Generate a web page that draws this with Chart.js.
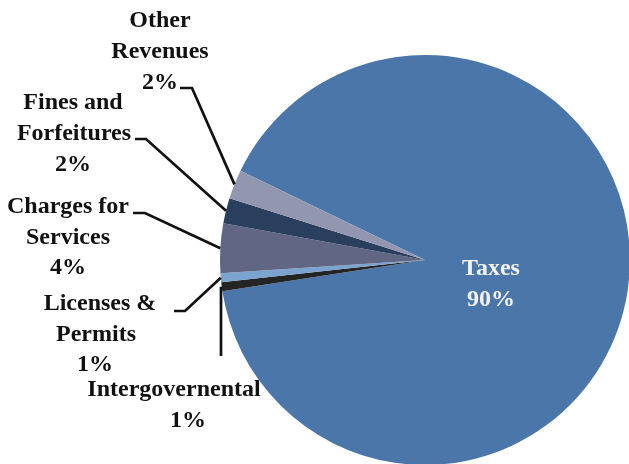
<!DOCTYPE html>
<html>
<head>
<meta charset="utf-8">
<script src="https://cdn.jsdelivr.net/npm/chart.js@4/dist/chart.umd.min.js"></script>
<style>
html,body{margin:0;padding:0;background:#fff;overflow:hidden;width:629px;height:464px;}
canvas{position:absolute;left:0;top:0;}
</style>
</head>
<body>
<canvas id="c" width="640" height="480"></canvas>
<script>
// ---- data ----
const categories = ["Taxes", "Intergovernental", "Licenses & Permits", "Charges for Services", "Fines and Forfeitures", "Other Revenues"];
const shares = [90.4, 0.7, 0.7, 3.9, 2.0, 2.3];
const sliceColors = ["#4A76A9", "#242424", "#7BA3CF", "#626685", "#2A3F5D", "#9296B1"];

// ---- label layout ----
const labelLayout = [
  { lines: [["Taxes", 491, 269], ["%", 491, 300]], color: "#F2F2F2", leader: null },
  { lines: [["Intergovernental", 174, 390], ["%", 188, 421]], color: "#111", leader: { from: [[221, 356]] } },
  { lines: [["Licenses &", 100, 304], ["Permits", 96, 335], ["%", 95, 365]], color: "#111", leader: { from: [[174, 311], [185, 311]] } },
  { lines: [["Charges for", 68, 207], ["Services", 68, 238], ["%", 68, 268]], color: "#111", leader: { from: [[133, 213], [145, 213]] } },
  { lines: [["Fines and", 73, 103], ["Forfeitures", 74, 134], ["%", 73, 165]], color: "#111", leader: { from: [[135, 139], [146, 139]] } },
  { lines: [["Other", 160, 21], ["Revenues", 160, 52], ["%", 160, 83]], color: "#111", leader: { from: [[180, 88], [192, 88]] } }
];

const labelPlugin = {
  id: 'pieLabels',
  afterDatasetsDraw(chart) {
    const ctx = chart.ctx;
    const meta = chart.getDatasetMeta(0);
    const data = chart.data.datasets[0].data;
    const total = data.reduce((a, b) => a + b, 0);
    ctx.save();
    meta.data.forEach((arc, i) => {
      const p = arc.getProps(['x', 'y', 'startAngle', 'endAngle', 'outerRadius'], true);
      const mid = (p.startAngle + p.endAngle) / 2;
      const ex = p.x + Math.cos(mid) * p.outerRadius;
      const ey = p.y + Math.sin(mid) * p.outerRadius;
      const lay = labelLayout[i];
      if (lay.leader) {
        ctx.beginPath();
        ctx.strokeStyle = "#111";
        ctx.lineWidth = 2.7;
        ctx.lineJoin = "miter";
        const pts = lay.leader.from;
        ctx.moveTo(pts[0][0], pts[0][1]);
        for (let k = 1; k < pts.length; k++) ctx.lineTo(pts[k][0], pts[k][1]);
        if (pts.length === 1) ctx.lineTo(pts[0][0], ey); else ctx.lineTo(ex, ey);
        ctx.stroke();
      }
      ctx.font = 'bold 24px "Liberation Serif", "Times New Roman", serif';
      ctx.textAlign = "center";
      ctx.textBaseline = "middle";
      ctx.fillStyle = lay.color;
      lay.lines.forEach(l => {
        const txt = l[0] === "%" ? Math.round(data[i] / total * 100) + "%" : l[0];
        ctx.fillText(txt, l[1], l[2]);
      });
    });
    ctx.restore();
  }
};

new Chart(document.getElementById('c'), {
  type: 'pie',
  data: {
    labels: categories,
    datasets: [{
      data: shares,
      backgroundColor: sliceColors,
      borderWidth: 0,
      hoverOffset: 0
    }]
  },
  options: {
    responsive: false,
    animation: false,
    rotation: 295.8,
    layout: { padding: { left: 220, top: 55, right: 10, bottom: 15 } },
    plugins: {
      legend: { display: false },
      tooltip: { enabled: false }
    }
  },
  plugins: [labelPlugin]
});
</script>
</body>
</html>
